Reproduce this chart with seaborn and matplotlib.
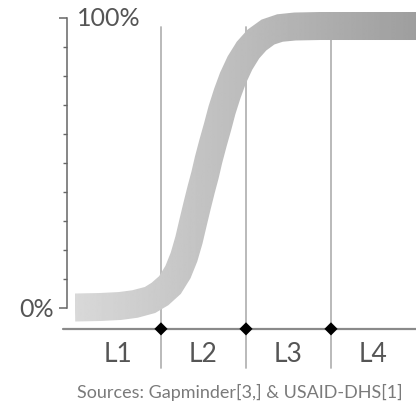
import numpy as np
import pandas as pd
import matplotlib
matplotlib.use("Agg")
import matplotlib.pyplot as plt
import seaborn as sns
from matplotlib.patches import Polygon
from matplotlib.ticker import FixedLocator

# Share of the population (%) along the four income levels (0..4 on x)
curve_x = [-0.012, 0.282, 0.518, 0.694, 0.871, 0.988, 1.106, 1.2, 1.271,
           1.329, 1.376, 1.424, 1.471, 1.518, 1.559, 1.612, 1.665, 1.718,
           1.782, 1.847, 1.929, 2.024, 2.129, 2.259, 2.4, 2.576, 2.871, 4.0]
curve_y = [0.17, 0.34, 0.69, 1.38, 2.76, 4.83, 7.93, 12.41, 17.59,
           23.45, 29.31, 35.17, 40.69, 45.86, 51.03, 56.9, 62.41, 68.28,
           74.14, 79.31, 84.48, 88.97, 92.41, 95.17, 96.55, 97.07, 97.24, 97.24]

levels = ["L1", "L2", "L3", "L4"]
level_centers = [0.5, 1.5, 2.5, 3.5]
level_bounds = [1, 2, 3]
minor_ticks = [10, 20, 30, 40, 50, 60, 70, 80, 90]
source_text = "Sources: Gapminder[3,] & USAID-DHS[1]"

sns.set_theme(style="white")
plt.rcParams["font.family"] = ["Lato", "DejaVu Sans"]

fig = plt.figure(figsize=(4.2, 4.07), dpi=100)
ax = fig.add_axes([60 / 420, 37 / 407, 356 / 420, 360 / 407])
ax.set_xlim(-0.188, 4.0)
ax.set_ylim(-21.38, 102.76)

text_col = "#555555"
axis_y = -7.2
axis_x = -0.106

# vertical level boundaries
for b in level_bounds:
    ax.plot([b, b], [axis_y - 13.5, 97.0], color="#b4b4b4", lw=1.3,
            zorder=1, clip_on=False)

# thick band around the curve: offset the centre line by half the width in pixels
df = pd.DataFrame({"x": curve_x, "y": curve_y})
sns.lineplot(data=df, x="x", y="y", color="none", lw=0, ax=ax, sort=False)
pix = ax.transData.transform(df[["x", "y"]].to_numpy())
d = np.gradient(pix, axis=0)
d /= np.linalg.norm(d, axis=1, keepdims=True)
normal = np.column_stack([-d[:, 1], d[:, 0]])
half = 14.0
upper = pix + normal * half
lower = pix - normal * half
outline = np.vstack([upper, lower[::-1]])
outline = ax.transData.inverted().transform(outline)
band = Polygon(outline, closed=True, facecolor="none", edgecolor="none")
ax.add_patch(band)

# light grey on the left fading to darker grey on the right
grad = np.linspace(0.85, 0.62, 256)[None, :]
img = ax.imshow(grad, cmap="gray", vmin=0, vmax=1, aspect="auto",
                extent=[curve_x[0], curve_x[-1], -10, 110], zorder=2,
                interpolation="bilinear")
img.set_clip_path(band)
ax.set_xlim(-0.188, 4.0)
ax.set_ylim(-21.38, 102.76)

# axes lines
for side in ["top", "right", "bottom"]:
    ax.spines[side].set_visible(False)
ax.spines["left"].set_position(("data", axis_x))
ax.spines["left"].set_bounds(0, 100)
ax.spines["left"].set_color("#666666")
ax.spines["left"].set_linewidth(1.1)
ax.axhline(axis_y, xmin=(-0.153 + 0.188) / 4.188, xmax=1.0,
           color="#8a8a8a", lw=1.6, zorder=3)

ax.set_yticks([0, 100])
ax.set_yticklabels(["0%", ""])
ax.yaxis.set_minor_locator(FixedLocator(minor_ticks))
ax.tick_params(axis="y", which="major", left=True, length=5.5, width=1.1,
               color="#666666", labelsize=18, labelcolor=text_col, pad=4)
ax.tick_params(axis="y", which="minor", left=True, length=3, width=1.0,
               color="#666666")
ax.set_xticks([])
ax.set_xlabel("")
ax.set_ylabel("")
ax.text(axis_x + 0.12, 100, "100%", fontsize=18, color=text_col,
        ha="left", va="center")

# diamond markers at the level boundaries
sns.scatterplot(x=level_bounds, y=[axis_y] * len(level_bounds), marker="D",
                s=45, color="black", edgecolor="none", ax=ax, zorder=4,
                clip_on=False)

for lab, cx in zip(levels, level_centers):
    ax.text(cx, axis_y - 9.0, lab, fontsize=19, color=text_col,
            ha="center", va="center")

fig.text(240 / 420, 1 - 392 / 407, source_text, fontsize=13,
         color="#7a7a7a", ha="center", va="center")

fig.savefig("out.png", dpi=100)
